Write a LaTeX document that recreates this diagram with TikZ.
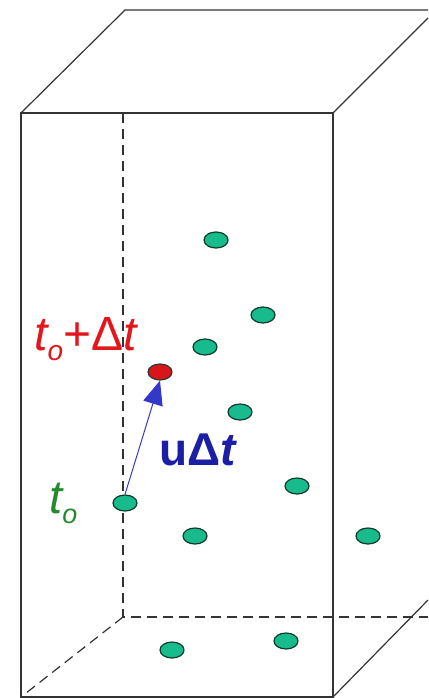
\documentclass[tikz,border=0pt]{standalone}
\usepackage{fontspec}
\setmainfont{Liberation Sans}
\usetikzlibrary{shapes.geometric,arrows.meta}
\definecolor{edge}{HTML}{333333}
\definecolor{dotfill}{HTML}{17BB8C}
\definecolor{dotline}{HTML}{0C3A2C}
\definecolor{redtxt}{HTML}{E3161B}
\definecolor{bluetxt}{HTML}{1C1FA6}
\definecolor{bluearr}{HTML}{3338C8}
\definecolor{greentxt}{HTML}{238A2E}
\tikzset{
  cubeline/.style={draw=edge,line width=1.2pt},
  hidden/.style={draw=edge,line width=1.2pt,dash pattern=on 10pt off 6pt},
  particle/.style={ellipse,draw=dotline,fill=dotfill,line width=1.2pt,minimum width=24pt,minimum height=16pt,inner sep=0pt},
  moved/.style={particle,fill=redtxt!95!black,draw=black!80},
  lbl/.style={inner sep=0pt,anchor=base west}
}
\begin{document}
\begin{tikzpicture}[x=1pt,y=-1pt]
\useasboundingbox (0,0) rectangle (428,698);
% back hidden edges
\coordinate (bt) at (123,113);
\coordinate (bb) at (123,617);
\coordinate (bbr) at (428,617);
\coordinate (fbl) at (21,697);
\draw[hidden] (bt) -- (bb) -- (bbr);
\draw[hidden] (bb) -- (fbl);
% front face
\coordinate (ftl) at (21,113);
\coordinate (ftr) at (333,113);
\coordinate (fbr) at (333,697);
\draw[cubeline] (ftl) rectangle (fbr);
% top face
\coordinate (btl) at (125,10);
\coordinate (btr) at (428,10);
\coordinate (tre) at (428,18);
\draw[cubeline] (ftl) -- (btl) -- (btr);
\draw[cubeline] (ftr) -- (tre);
% bottom right diagonal
\coordinate (bre) at (428,600);
\draw[cubeline] (fbr) -- (bre);
% particles
\node[particle] (p1) at (216,240) {};
\node[particle] (p2) at (263,315) {};
\node[particle] (p3) at (205,347) {};
\node[moved] (pr) at (160,372) {};
\node[particle] (p4) at (240,412) {};
\node[particle] (p5) at (297,486) {};
\node[particle] (p0) at (125,503) {};
\node[particle] (p6) at (195,536) {};
\node[particle] (p7) at (368,536) {};
\node[particle] (p8) at (172,650) {};
\node[particle] (p9) at (286,641) {};
% displacement arrow
\draw[bluearr,line width=1pt,-{Triangle[length=24pt,width=20pt]}] (p0.north) -- (pr.south);
% labels
\node[lbl,text=redtxt] (lt1) at (34,350) {\fontsize{48}{48}\selectfont\itshape t\raisebox{-10pt}{\fontsize{28}{28}\selectfont o}\upshape+Δ\itshape t};
\node[lbl,text=bluetxt] (lu) at (159,465) {\fontsize{46}{46}\selectfont\bfseries uΔ\itshape t};
\node[lbl,text=greentxt] (lt0) at (49,513) {\fontsize{47}{47}\selectfont\itshape t\raisebox{-10pt}{\fontsize{27}{27}\selectfont o}};
\end{tikzpicture}
\end{document}
